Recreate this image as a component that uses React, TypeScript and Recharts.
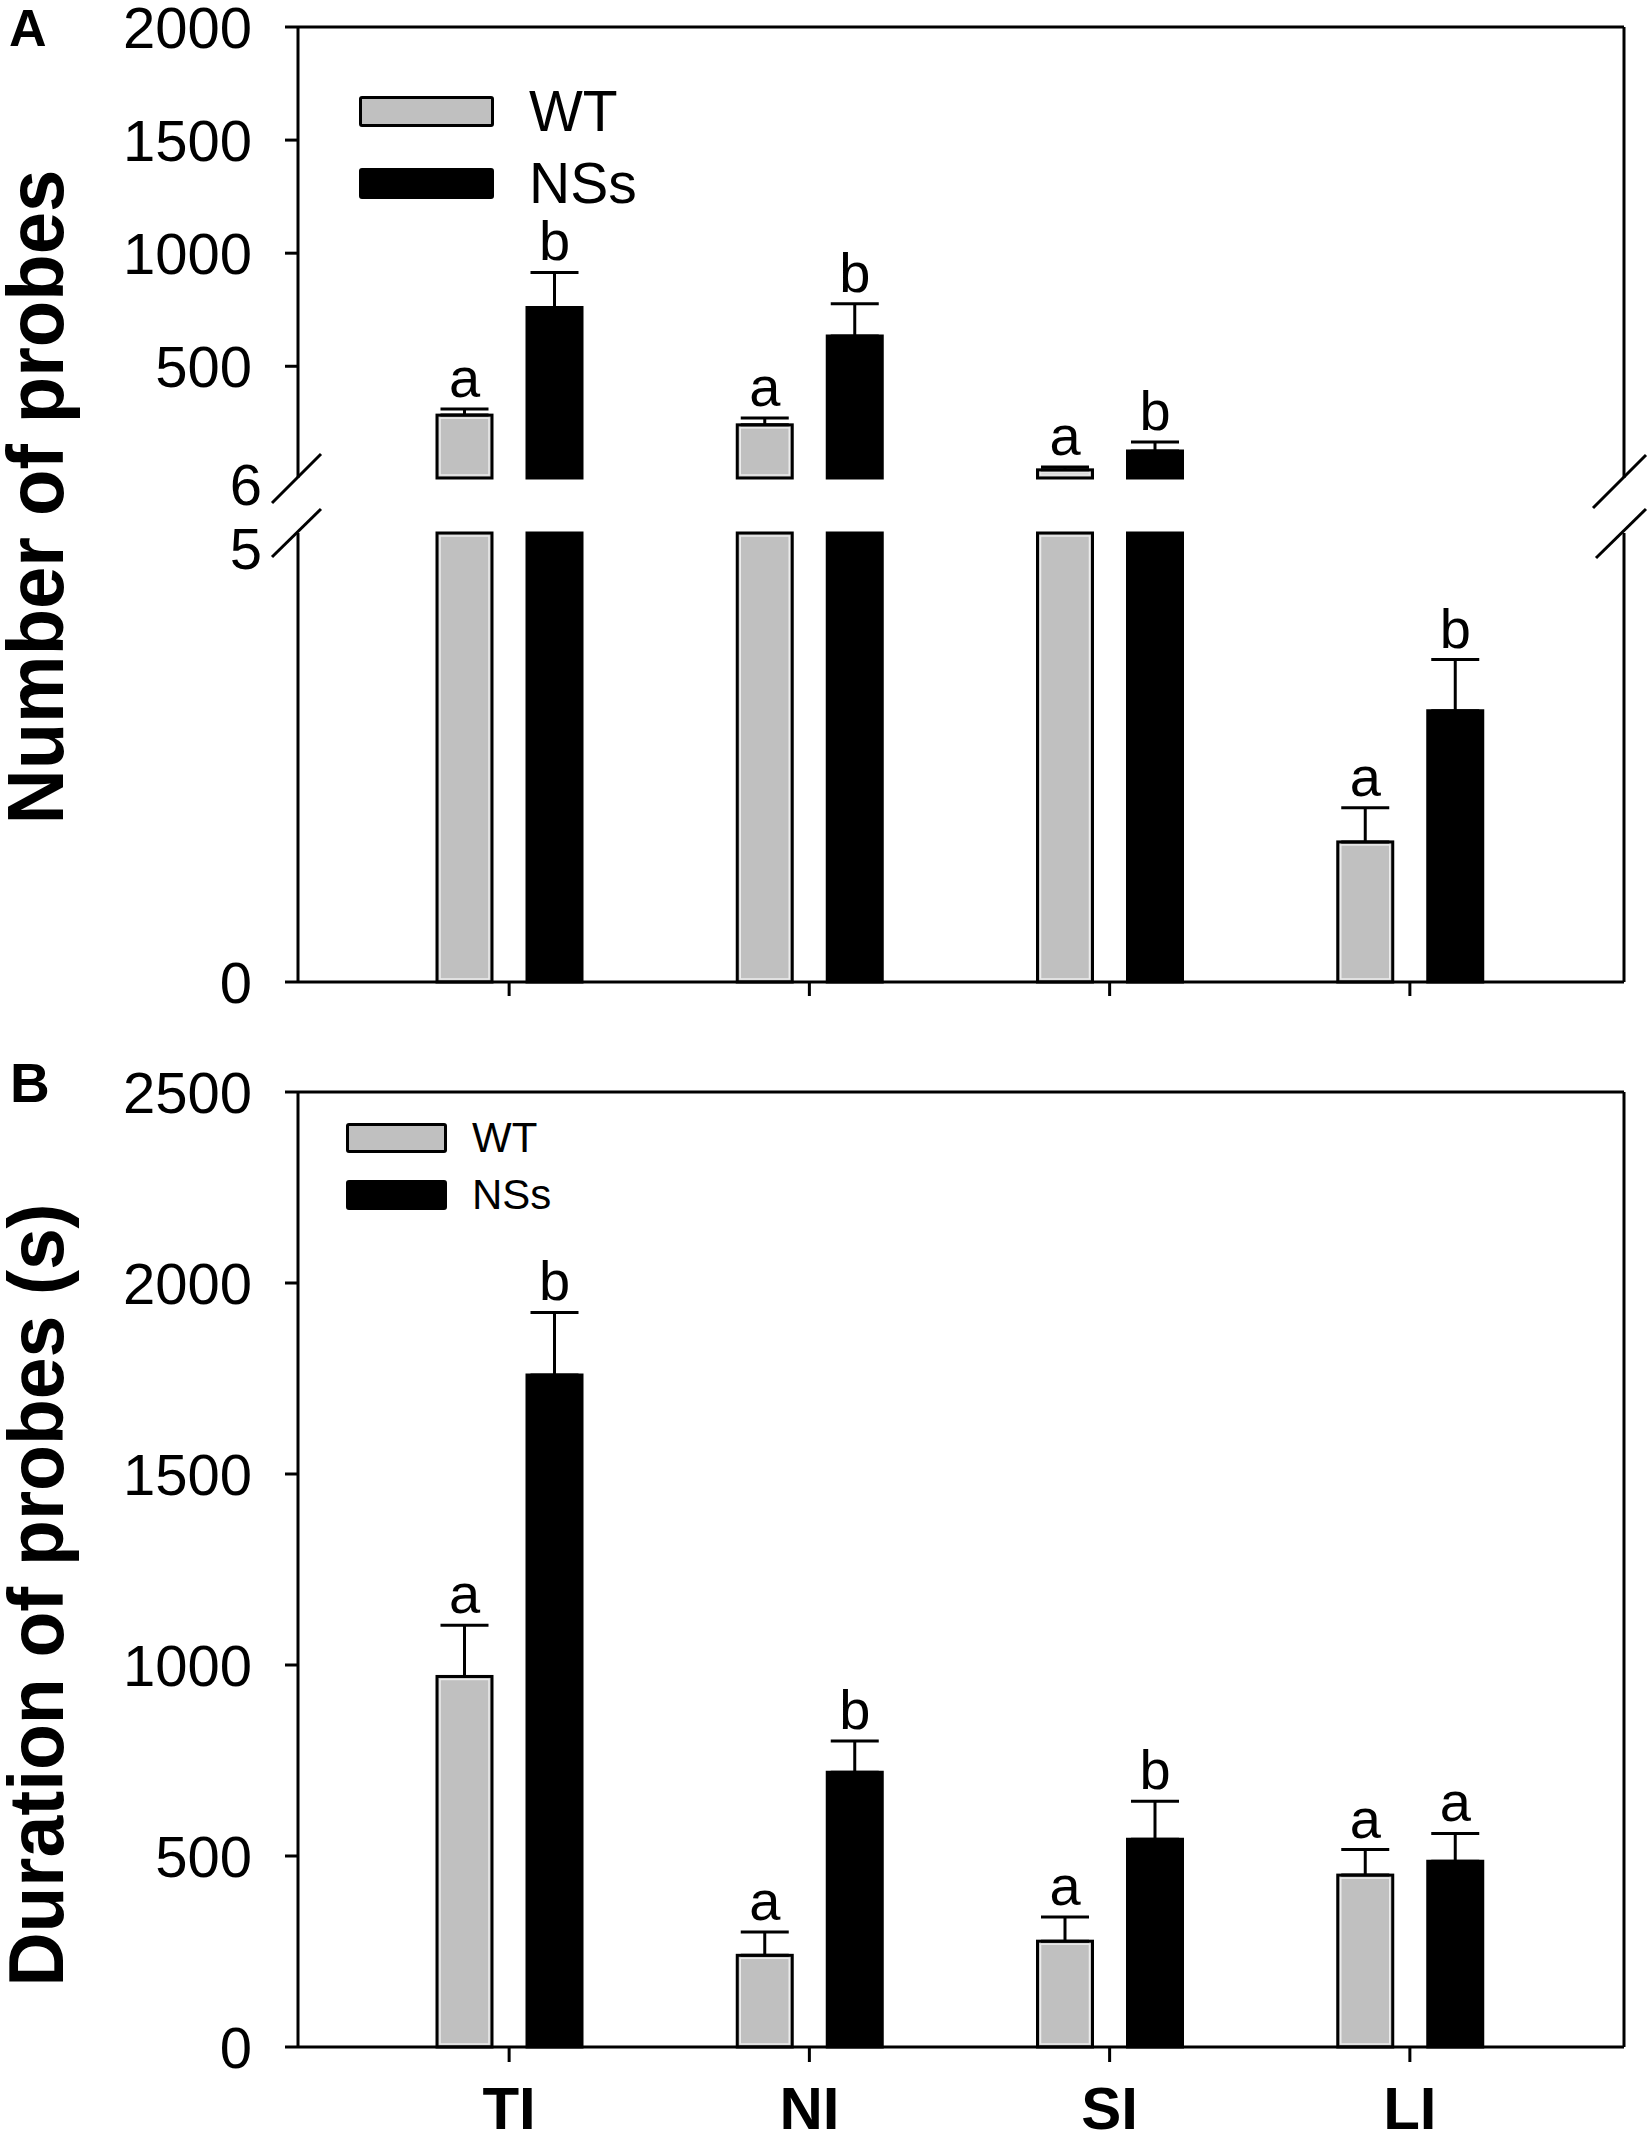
import React from "react";
import { BarChart, Bar, XAxis, YAxis, ErrorBar, LabelList, ReferenceLine, Legend } from "recharts";

const categories = ["TI", "NI", "SI", "LI"];
const seriesNames = ["WT", "NSs"];

// A: number of probes (mean, SE upward only)
const probeCountWT = [284, 241, 42, 1.56];
const probeCountWTErr = [27, 30, 13, 0.38];
const probeCountNSs = [760, 634, 125, 3.02];
const probeCountNSsErr = [155, 142, 40, 0.57];
const probeCountWTLetters = ["a", "a", "a", "a"];
const probeCountNSsLetters = ["b", "b", "b", "b"];

// B: duration of probes (s)
const durationWT = [970, 240, 277, 450];
const durationWTErr = [134, 61, 63, 67];
const durationNSs = [1759, 719, 544, 486];
const durationNSsErr = [164, 82, 99, 73];
const durationWTLetters = ["a", "a", "a", "a"];
const durationNSsLetters = ["b", "b", "b", "a"];

// axis breaks of panel A
const upperRange: [number, number] = [6, 2000];
const lowerRange: [number, number] = [0, 5];
const durationRange: [number, number] = [0, 2500];
const upperTicks = [6, 500, 1000, 1500, 2000];
const lowerTicks = [0, 5];
const durationTicks = [0, 500, 1000, 1500, 2000, 2500];

const FONT = "Arial, 'Liberation Sans', sans-serif";
const GRAY = "#c0c0c0";
const BLACK = "#000";
const AXIS_X = 298;
const Y_TICK = 13;
const Y_GAP = 33;
const W = 1650;
const X_PAD = { left: 61, right: 64 };

type Part = { v: number | null; e: [number, number] | null; top: number | null; lab: string | null };

function part(v: number, e: number, lab: string, [lo, hi]: [number, number]): Part {
  if (v < lo) return { v: null, e: null, top: null, lab: null };
  const whole = v + e <= hi;
  return { v: Math.min(v, hi), e: whole ? [0, e] : null, top: whole ? v + e : null, lab: whole ? lab : null };
}

function buildRows(
  wt: number[], wtErr: number[], ns: number[], nsErr: number[],
  wtLab: string[], nsLab: string[], range: [number, number]
) {
  return categories.map((cat, i) => {
    const a = part(wt[i], wtErr[i], wtLab[i], range);
    const b = part(ns[i], nsErr[i], nsLab[i], range);
    return {
      cat,
      wt: a.v, wtErr: a.e, wtTop: a.top, wtLab: a.lab,
      ns: b.v, nsErr: b.e, nsTop: b.top, nsLab: b.lab,
    };
  });
}

const upperRows = buildRows(probeCountWT, probeCountWTErr, probeCountNSs, probeCountNSsErr,
  probeCountWTLetters, probeCountNSsLetters, upperRange);
const lowerRows = buildRows(probeCountWT, probeCountWTErr, probeCountNSs, probeCountNSsErr,
  probeCountWTLetters, probeCountNSsLetters, lowerRange);
const durationRows = buildRows(durationWT, durationWTErr, durationNSs, durationNSsErr,
  durationWTLetters, durationNSsLetters, durationRange);

function makeYTick(breaks: Record<number, { dx: number; dy: number }>) {
  return (props: any) => {
    const { y, payload } = props;
    const shift = breaks[payload.value];
    return (
      <g>
        {!shift && <line x1={AXIS_X - Y_TICK} x2={AXIS_X} y1={y} y2={y} stroke={BLACK} strokeWidth={3} />}
        <text
          x={AXIS_X - Y_TICK - Y_GAP + (shift ? shift.dx : 0)}
          y={y + (shift ? shift.dy : 0)}
          dy="0.355em"
          textAnchor="end"
          fontSize={58}
          fill={BLACK}
        >
          {payload.value}
        </text>
      </g>
    );
  };
}

const OutlinedBar = (props: any) => {
  const { x, y, width, height, fill } = props;
  if (!height || height <= 0) return null;
  return (
    <g>
      <rect x={x} y={y} width={width} height={height} fill={fill} stroke={BLACK} strokeWidth={3} />
      {height > 8 && (
        <rect x={x + 3} y={y + 3} width={width - 6} height={height - 6} fill="none" stroke="#ececec" strokeWidth={1.5} />
      )}
    </g>
  );
};

function legendContent(swW: number, swH: number, pitch: number, gap: number, fontSize: number) {
  return (props: any) => {
    const items = (props.payload || [])
      .filter((p: any) => p.type !== "none" && seriesNames.includes(p.value))
      .sort((a: any, b: any) => seriesNames.indexOf(a.value) - seriesNames.indexOf(b.value));
    return (
      <div>
        {items.map((p: any) => (
          <div key={p.value} style={{ display: "flex", alignItems: "center", height: pitch }}>
            <div
              style={{
                width: swW, height: swH, background: p.color, border: "3px solid #000",
                borderRadius: 3, boxSizing: "border-box",
              }}
            />
            <span style={{ marginLeft: gap, fontSize, lineHeight: 1, color: BLACK, fontFamily: FONT }}>{p.value}</span>
          </div>
        ))}
      </div>
    );
  };
}

const noTick = () => <g />;
const axisStyle = { stroke: BLACK, strokeWidth: 3 };

function series(letterSize: number) {
  return [
    <Bar key="wt" dataKey="wt" name={seriesNames[0]} fill={GRAY} barSize={55} shape={OutlinedBar} isAnimationActive={false}>
      <ErrorBar dataKey="wtErr" width={24} strokeWidth={3} stroke={BLACK} direction="y" />
    </Bar>,
    <Bar key="ns" dataKey="ns" name={seriesNames[1]} fill={BLACK} stroke={BLACK} strokeWidth={3} barSize={55} isAnimationActive={false}>
      <ErrorBar dataKey="nsErr" width={24} strokeWidth={3} stroke={BLACK} direction="y" />
    </Bar>,
    <Bar key="wtTop" xAxisId="lab" dataKey="wtTop" fill="none" barSize={55} legendType="none" isAnimationActive={false}>
      <LabelList dataKey="wtLab" position="top" offset={12} fontSize={letterSize} fill={BLACK} />
    </Bar>,
    <Bar key="nsTop" xAxisId="lab" dataKey="nsTop" fill="none" barSize={55} legendType="none" isAnimationActive={false}>
      <LabelList dataKey="nsLab" position="top" offset={12} fontSize={letterSize} fill={BLACK} />
    </Bar>,
  ];
}

function frameAxes() {
  return [
    <XAxis key="lab" xAxisId="lab" dataKey="cat" padding={X_PAD} hide />,
    <YAxis key="frame" yAxisId="frame" orientation="right" width={26} domain={[0, 1]}
      tick={false} tickLine={false} axisLine={axisStyle} />,
  ];
}

export default function App() {
  return (
    <div style={{ position: "absolute", left: 0, top: 0, width: W, height: 2143, background: "#fff", fontFamily: FONT }}>
      {/* A, upper segment */}
      <div style={{ position: "absolute", left: 0, top: 0 }}>
        <BarChart width={W} height={530} data={upperRows} barGap={35} margin={{ top: 27, right: 0, bottom: 52, left: 0 }}>
          <XAxis dataKey="cat" padding={X_PAD} hide />
          {frameAxes()}
          <YAxis
            domain={upperRange}
            ticks={upperTicks}
            width={AXIS_X}
            tickLine={false}
            axisLine={axisStyle}
            tick={makeYTick({ 6: { dx: 10, dy: 6 } })}
          />
          <ReferenceLine y={2000} stroke={BLACK} strokeWidth={3} />
          <Legend
            layout="horizontal"
            verticalAlign="middle"
            align="center"
            wrapperStyle={{ left: 359, top: 75, width: 400, height: "auto" }}
            content={legendContent(135, 31, 72, 35, 57)}
          />
          {series(56)}
        </BarChart>
      </div>

      {/* A, lower segment */}
      <div style={{ position: "absolute", left: 0, top: 500 }}>
        <BarChart width={W} height={520} data={lowerRows} barGap={35} margin={{ top: 33, right: 0, bottom: 8, left: 0 }}>
          <XAxis
            dataKey="cat"
            padding={X_PAD}
            height={30}
            axisLine={axisStyle}
            tickLine={axisStyle}
            tickSize={14}
            tick={noTick}
          />
          {frameAxes()}
          <YAxis
            domain={lowerRange}
            ticks={lowerTicks}
            width={AXIS_X}
            tickLine={false}
            axisLine={axisStyle}
            tick={makeYTick({ 5: { dx: 10, dy: 15 } })}
          />
          {series(56)}
        </BarChart>
      </div>

      {/* B */}
      <div style={{ position: "absolute", left: 0, top: 1040 }}>
        <BarChart width={W} height={1103} data={durationRows} barGap={35} margin={{ top: 52, right: 0, bottom: 0, left: 0 }}>
          <XAxis
            dataKey="cat"
            padding={X_PAD}
            height={96}
            axisLine={axisStyle}
            tickLine={axisStyle}
            tickSize={15}
            tickMargin={24}
            tick={{ fontSize: 60, fontWeight: "bold", fill: BLACK }}
          />
          {frameAxes()}
          <YAxis
            domain={durationRange}
            ticks={durationTicks}
            width={AXIS_X}
            tickLine={false}
            axisLine={axisStyle}
            tick={makeYTick({})}
          />
          <ReferenceLine y={2500} stroke={BLACK} strokeWidth={3} />
          <Legend
            layout="horizontal"
            verticalAlign="middle"
            align="center"
            wrapperStyle={{ left: 346, top: 69, width: 300, height: "auto" }}
            content={legendContent(101, 30, 57, 25, 42)}
          />
          {series(56)}
        </BarChart>
      </div>

      {/* panel letters, axis titles, break marks */}
      <svg width={W} height={2143} style={{ position: "absolute", left: 0, top: 0, pointerEvents: "none" }}>
        <text x={9} y={46} fontSize={52} fontWeight="bold" fill={BLACK}>A</text>
        <text x={10} y={1102} fontSize={55} fontWeight="bold" fill={BLACK}>B</text>
        <text transform="translate(63,497) scale(1.04,1) rotate(-90)" textAnchor="middle" fontSize={76} fontWeight="bold" fill={BLACK}>
          Number of probes
        </text>
        <text transform="translate(63,1595) scale(1.04,1) rotate(-90)" textAnchor="middle" fontSize={75} fontWeight="bold" fill={BLACK}>
          Duration of probes (s)
        </text>
        <g stroke={BLACK} strokeWidth={3}>
          <line x1={272} y1={503} x2={321} y2={454} />
          <line x1={272} y1={557} x2={321} y2={509} />
          <line x1={1593} y1={508} x2={1646} y2={455} />
          <line x1={1596} y1={558} x2={1646} y2={509} />
        </g>
      </svg>
    </div>
  );
}
